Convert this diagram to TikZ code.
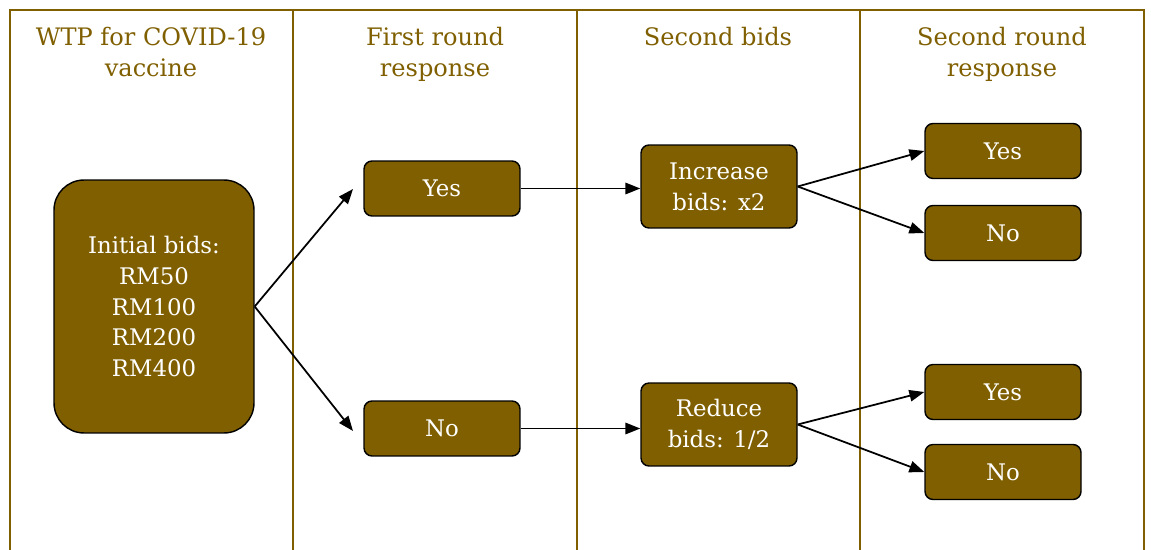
\documentclass[tikz,border=0pt]{standalone}
\usepackage{fontspec}
\setmainfont{DejaVu Serif}
\usetikzlibrary{arrows.meta}
\definecolor{bidbrown}{RGB}{127,95,0}
\begin{document}
\begin{tikzpicture}[x=0.02cm,y=-0.02cm,
  every node/.style={font=\fontsize{13}{17.5}\selectfont, inner sep=0pt, align=center},
  header/.style={text=bidbrown, anchor=north, font=\fontsize{13.7}{17.8}\selectfont},
  bidbox/.style={draw=black, line width=0.8pt, fill=bidbrown, text=white, rounded corners=0.16cm},
  smallbox/.style={bidbox, minimum width=3.12cm, minimum height=1.1cm},
  midbox/.style={bidbox, minimum width=3.12cm, minimum height=1.66cm},
  frame/.style={draw=bidbrown, line width=1.6pt},
  conn/.style={draw=black, line width=1pt, -{Triangle[length=8.5pt,width=6.5pt]}}
]
\useasboundingbox (0,0) rectangle (1151,550);
% frame
\draw[frame] (10,550) -- (10,10) -- (1144,10) -- (1144,550);
\draw[frame] (293,10) -- (293,550);
\draw[frame] (577,10) -- (577,550);
\draw[frame] (860,10) -- (860,550);
% headers
\node[header] (h1) at (151,27) {WTP for COVID-19\\vaccine};
\node[header] (h2) at (435,27) {First round\\response};
\node[header] (h3) at (718,27) {Second bids};
\node[header] (h4) at (1002,27) {Second round\\response};
% boxes
\node[bidbox, minimum width=4cm, minimum height=5.06cm, rounded corners=0.6cm] (init) at (154,306.5)
  {Initial bids:\\RM50\\RM100\\RM200\\RM400};
\node[smallbox] (yes1) at (442,188.5) {Yes};
\node[smallbox] (no1) at (442,428.5) {No};
\node[midbox] (inc) at (719,186.5) {Increase\\bids: x2};
\node[midbox] (red) at (719,424.5) {Reduce\\bids: 1/2};
\node[smallbox] (yes2) at (1003,151) {Yes};
\node[smallbox] (no2) at (1003,233) {No};
\node[smallbox] (yes3) at (1003,392) {Yes};
\node[smallbox] (no3) at (1003,472) {No};
% connectors
\coordinate (ty) at (353,189);
\coordinate (tn) at (353,431);
\draw[conn] (init.east) -- (ty);
\draw[conn] (init.east) -- (tn);
\draw[conn] (yes1.east) -- (yes1.east -| inc.west);
\draw[conn] (no1.east) -- (no1.east -| red.west);
\draw[conn] (inc.east) -- (yes2.west);
\draw[conn] (inc.east) -- (no2.west);
\draw[conn] (red.east) -- (yes3.west);
\draw[conn] (red.east) -- (no3.west);
\end{tikzpicture}
\end{document}
